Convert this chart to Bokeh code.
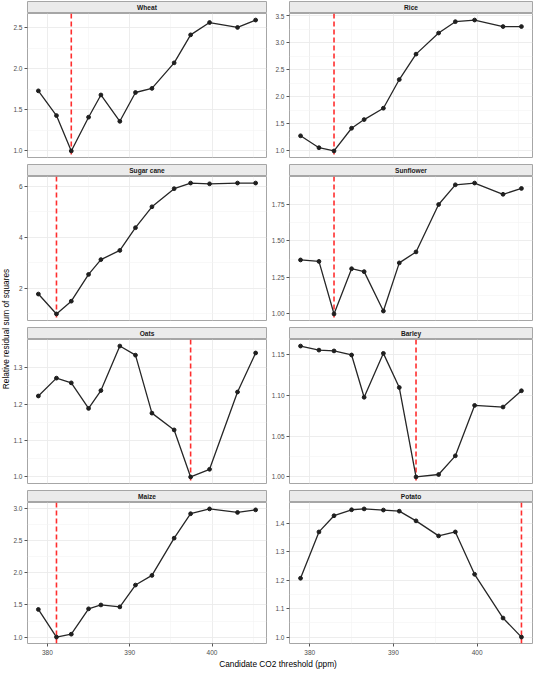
import numpy as np
from bokeh.plotting import figure
from bokeh.layouts import row, column
from bokeh.models import Range1d, FixedTicker, Span
from bokeh.core.properties import value
from bokeh.embed import file_html
from bokeh.resources import INLINE

# ---------------- data ----------------
co2_threshold = [378.9, 381.1, 382.9, 385.0, 386.5, 388.8, 390.7,
                 392.7, 395.4, 397.4, 399.7, 403.1, 405.3]

crops = ["Wheat", "Rice", "Sugar cane", "Sunflower",
         "Oats", "Barley", "Maize", "Potato"]

wheat = [1.73, 1.43, 1.00, 1.41, 1.68, 1.36, 1.71, 1.76, 2.07, 2.41, 2.56, 2.50, 2.59]
rice = [1.28, 1.06, 1.00, 1.42, 1.58, 1.79, 2.32, 2.79, 3.18, 3.39, 3.42, 3.30, 3.30]
sugar_cane = [1.78, 1.00, 1.50, 2.55, 3.13, 3.49, 4.38, 5.20, 5.91, 6.13, 6.10, 6.13, 6.13]
sunflower = [1.37, 1.36, 1.00, 1.31, 1.29, 1.02, 1.35, 1.425, 1.75, 1.885, 1.897, 1.82, 1.86]
oats = [1.222, 1.271, 1.258, 1.188, 1.237, 1.359, 1.334, 1.175, 1.129, 1.000, 1.021, 1.233, 1.340]
barley = [1.161, 1.156, 1.155, 1.150, 1.098, 1.152, 1.110, 1.000, 1.003, 1.026, 1.088, 1.086, 1.106]
maize = [1.43, 1.00, 1.045, 1.44, 1.50, 1.47, 1.81, 1.96, 2.54, 2.92, 2.995, 2.94, 2.98]
potato = [1.207, 1.370, 1.427, 1.448, 1.451, 1.447, 1.443, 1.409, 1.356, 1.370, 1.221, 1.067, 1.000]

series = [wheat, rice, sugar_cane, sunflower, oats, barley, maize, potato]

y_ticks = [
    [1.0, 1.5, 2.0, 2.5],
    [1.0, 1.5, 2.0, 2.5, 3.0, 3.5],
    [2, 4, 6],
    [1.00, 1.25, 1.50, 1.75],
    [1.0, 1.1, 1.2, 1.3],
    [1.00, 1.05, 1.10, 1.15],
    [1.0, 1.5, 2.0, 2.5, 3.0],
    [1.0, 1.1, 1.2, 1.3, 1.4],
]
y_tick_labels = [
    ["1.0", "1.5", "2.0", "2.5"],
    ["1.0", "1.5", "2.0", "2.5", "3.0", "3.5"],
    ["2", "4", "6"],
    ["1.00", "1.25", "1.50", "1.75"],
    ["1.0", "1.1", "1.2", "1.3"],
    ["1.00", "1.05", "1.10", "1.15"],
    ["1.0", "1.5", "2.0", "2.5", "3.0"],
    ["1.0", "1.1", "1.2", "1.3", "1.4"],
]
x_ticks = [380, 390, 400]
x_tick_labels = ["380", "390", "400"]

x_title = "Candidate CO2 threshold (ppm)"
y_title = "Relative residual sum of squares"

# ---------------- style ----------------
FONT = "Liberation Sans"
BORDER = "#A6A6A6"
GRID = "#EBEBEB"
MINOR_GRID = "#F4F4F4"

FRAME_W = 243
FRAME_H = 144
STRIP_H = 13
GAP = 6
XAX_H = 11
LEFT_B = [13, 22]
RIGHT_B = 1
YT_W = 10


def expand(lo, hi, f=0.05):
    d = (hi - lo) * f
    return lo - d, hi + d


def minor(ticks, lo, hi):
    step = ticks[1] - ticks[0]
    cand = [ticks[0] - step / 2] + [t + step / 2 for t in ticks]
    return [m for m in cand if lo < m < hi]


def plain_fig(**kw):
    f = figure(x_range=Range1d(0, 1), y_range=Range1d(0, 1),
               x_axis_location=None, y_axis_location=None,
               toolbar_location=None, output_backend="svg", **kw)
    f.renderers = []
    f.center = []
    f.border_fill_color = "white"
    return f


def make_strip(name, col):
    s = plain_fig(width=LEFT_B[col] + FRAME_W + RIGHT_B, height=STRIP_H,
                  min_border_left=LEFT_B[col], min_border_right=RIGHT_B,
                  min_border_top=1, min_border_bottom=0)
    s.background_fill_color = "#EBEBEB"
    s.outline_line_color = BORDER
    s.outline_line_width = 1
    s.text(x=[0.5], y=[0.5], text=[name], text_font=value(FONT),
           text_font_style="bold", text_font_size="6.6px",
           text_align="center", text_baseline="middle", text_color="#1A1A1A")
    return s


def make_panel(i, col, last):
    ys = series[i]
    ylo, yhi = expand(min(ys), max(ys))
    xlo, xhi = expand(min(co2_threshold), max(co2_threshold))
    bottom = XAX_H if last else GAP
    p = figure(width=LEFT_B[col] + FRAME_W + RIGHT_B, height=FRAME_H + bottom,
               x_range=Range1d(xlo, xhi), y_range=Range1d(ylo, yhi),
               toolbar_location=None, output_backend="svg",
               min_border_left=LEFT_B[col], min_border_right=RIGHT_B,
               min_border_top=0, min_border_bottom=bottom)
    p.background_fill_color = "white"
    p.border_fill_color = "white"
    p.outline_line_color = BORDER
    p.outline_line_width = 1

    p.xaxis.ticker = FixedTicker(ticks=x_ticks, minor_ticks=minor(x_ticks, xlo, xhi))
    p.xaxis.major_label_overrides = {t: l for t, l in zip(x_ticks, x_tick_labels)}
    p.yaxis.ticker = FixedTicker(ticks=y_ticks[i], minor_ticks=minor(y_ticks[i], ylo, yhi))
    p.yaxis.major_label_overrides = {t: l for t, l in zip(y_ticks[i], y_tick_labels[i])}

    for ax in (p.xaxis, p.yaxis):
        ax.axis_line_color = None
        ax.major_tick_line_color = "#555555"
        ax.major_tick_out = 3
        ax.major_tick_in = 0
        ax.minor_tick_line_color = None
        ax.major_label_text_font = FONT
        ax.major_label_text_font_size = "6.5px"
        ax.major_label_text_color = "#4D4D4D"
    p.yaxis.major_label_standoff = 1
    p.xaxis.major_label_standoff = 2
    if not last:
        p.xaxis.visible = False

    for g in (p.xgrid, p.ygrid):
        g.grid_line_color = GRID
        g.grid_line_width = 0.9
        g.minor_grid_line_color = MINOR_GRID
        g.minor_grid_line_width = 0.6

    best = co2_threshold[int(np.argmin(ys))]
    span = Span(location=best, dimension="height", line_color="#FF2E2E",
                line_dash="5 3", line_width=1.6, level="underlay")
    p.add_layout(span)

    p.line(co2_threshold, ys, line_color="#262626", line_width=1.3)
    p.scatter(co2_threshold, ys, size=3.8, color="#1F1F1F", marker="circle")
    return p


cols = [[], []]
for i, name in enumerate(crops):
    col = i % 2
    last = i >= 6
    cols[col].append(make_strip(name, col))
    cols[col].append(make_panel(i, col, last))

col_h = 4 * STRIP_H + 3 * (FRAME_H + GAP) + FRAME_H + XAX_H

yt = plain_fig(width=YT_W, height=col_h, min_border=0)
yt.outline_line_color = None
yt.background_fill_color = "white"
yt.text(x=[0.5], y=[0.5], text=[y_title], angle=np.pi / 2,
        text_font=value(FONT), text_font_size="8.3px", text_align="center",
        text_baseline="middle", text_color="#000000")

total_w = YT_W + (LEFT_B[0] + FRAME_W + RIGHT_B) + (LEFT_B[1] + FRAME_W + RIGHT_B)
xt = plain_fig(width=total_w, height=12, min_border_left=YT_W + LEFT_B[0],
               min_border_right=RIGHT_B, min_border_top=0, min_border_bottom=0)
xt.outline_line_color = None
xt.background_fill_color = "white"
xt.text(x=[0.5], y=[0.5], text=[x_title], text_font=value(FONT),
        text_font_size="8.3px", text_align="center", text_baseline="middle",
        text_color="#000000")

layout = column(row(yt, column(*cols[0]), column(*cols[1])), xt)

open("out.html", "w").write(file_html(layout, INLINE))
